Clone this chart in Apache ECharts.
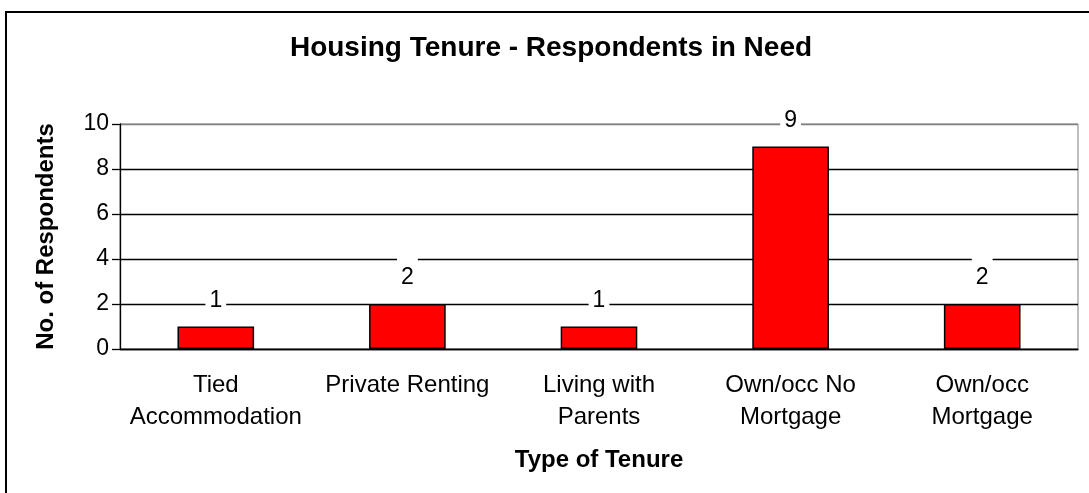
<!DOCTYPE html>
<html>
<head>
<meta charset="utf-8">
<script src="https://cdn.jsdelivr.net/npm/echarts@6/dist/echarts.min.js"></script>
<style>
  html, body { margin: 0; padding: 0; background: #fff; }
  #chart { width: 1089px; height: 493px; }
</style>
</head>
<body>
<div id="chart"></div>
<script>
// categories and values
const tenureTypes = ['Tied\nAccommodation', 'Private Renting', 'Living with\nParents', 'Own/occ No\nMortgage', 'Own/occ\nMortgage']
const respondents = [1, 2, 1, 9, 2]

const font = '"Liberation Sans", Arial, sans-serif'

const chart = echarts.init(document.getElementById('chart'))

const option = {
  backgroundColor: '#fff',
  animation: false,
  textStyle: { fontFamily: font },
  title: {
    text: 'Housing Tenure - Respondents in Need',
    left: 551,
    top: 34,
    padding: 0,
    textAlign: 'center',
    textStyle: { fontFamily: font, fontSize: 28, fontWeight: 'bold', color: '#000' }
  },
  graphic: [
    {
      // outer chart border (runs off the right/bottom of the picture)
      type: 'rect',
      shape: { x: 6, y: 12, width: 1200, height: 600 },
      style: { fill: null, stroke: '#000', lineWidth: 2 },
      silent: true
    }
  ],
  grid: {
    left: 120,
    right: 11,
    top: 124,
    bottom: 144,
    show: true,
    borderColor: '#808080',
    borderWidth: 1
  },
  xAxis: {
    type: 'category',
    data: tenureTypes,
    name: 'Type of Tenure',
    nameLocation: 'middle',
    nameGap: 99,
    nameTextStyle: { fontFamily: font, fontSize: 24, fontWeight: 'bold', color: '#000' },
    axisLine: { lineStyle: { color: '#000', width: 1.3 } },
    axisTick: { length: 8, lineStyle: { color: '#000', width: 1.3 } },
    axisLabel: {
      interval: 0,
      margin: 20,
      fontFamily: font,
      fontSize: 24,
      lineHeight: 32,
      color: '#000'
    }
  },
  yAxis: {
    type: 'value',
    min: 0,
    max: 10,
    interval: 2,
    name: 'No. of Respondents',
    nameLocation: 'middle',
    nameGap: 62,
    nameTextStyle: { fontFamily: font, fontSize: 24, fontWeight: 'bold', color: '#000' },
    axisLine: { show: true, lineStyle: { color: '#000', width: 1.3 } },
    axisTick: { show: true, length: 8, lineStyle: { color: '#000', width: 1.3 } },
    axisLabel: { margin: 11, fontFamily: font, fontSize: 23, color: '#000' },
    splitLine: {
      lineStyle: {
        color: ['#000', '#000', '#000', '#000', '#000', '#808080'],
        width: 1.3
      }
    }
  },
  series: [
    {
      type: 'bar',
      data: respondents,
      barWidth: '40%',
      itemStyle: { color: '#ff0000', borderColor: '#000', borderWidth: 1.5 },
      label: {
        show: true,
        position: 'top',
        distance: 4,
        fontFamily: font,
        fontSize: 23,
        lineHeight: 24,
        color: '#000',
        backgroundColor: '#fff',
        padding: [10, 4, 10, 4]
      }
    }
  ]
}

chart.setOption(option)
</script>
</body>
</html>
